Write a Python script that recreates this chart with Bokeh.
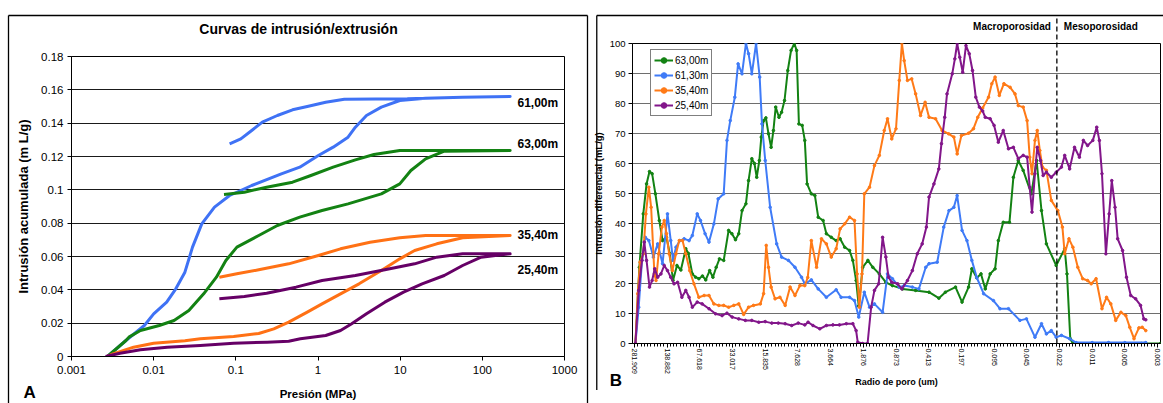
from bokeh.plotting import figure
from bokeh.layouts import row
from bokeh.models import (Range1d, FixedTicker, NumeralTickFormatter, Legend, LegendItem)
from bokeh.core.properties import value
from bokeh.embed import file_html
from bokeh.resources import INLINE

FONT = "Liberation Sans"

# ------------------------------------------------------------------ data (A)
TITLE_A = "Curvas de intrusión/extrusión"
LABELS_A = ["61,00m", "63,00m", "35,40m", "25,40m"]
LABEL_Y_A = [0.1524, 0.1278, 0.0732, 0.0522]
COLORS_A = ["#3f72f5", "#138213", "#ff7115", "#660066"]
X_TICKS_A = [0.001, 0.01, 0.1, 1, 10, 100, 1000]
Y_TICKS_A = [0, 0.02, 0.04, 0.06, 0.08, 0.1, 0.12, 0.14, 0.16, 0.18]

P_INT_61 = [0.00274, 0.0046, 0.0077, 0.010, 0.0144, 0.0186, 0.024, 0.0297, 0.0385, 0.055,
            0.084, 0.156, 0.358, 0.60, 1.01, 1.53, 2.32, 2.85, 3.89, 5.9, 9.9, 20.4, 57.6, 218]
V_INT_61 = [0, 0.0096, 0.0186, 0.0256, 0.0326, 0.0406, 0.0506, 0.0656, 0.0796, 0.0896,
            0.0966, 0.1026, 0.1096, 0.1136, 0.1206, 0.1256, 0.1316, 0.1376, 0.1446, 0.1496,
            0.1536, 0.155, 0.1556, 0.156]
P_EXT_61 = [218, 57.6, 12.2, 2.09, 1.24, 0.74, 0.49, 0.32, 0.21, 0.156, 0.115, 0.084]
V_EXT_61 = [0.156, 0.1556, 0.1546, 0.1544, 0.1526, 0.150, 0.148, 0.1446, 0.1406, 0.1356,
            0.1306, 0.1276]
P_INT_63 = [0.00274, 0.0046, 0.0050, 0.0069, 0.0117, 0.0177, 0.0268, 0.0406, 0.058, 0.0756,
            0.103, 0.19, 0.32, 0.60, 1.12, 2.32, 5.9, 9.9, 13.5, 20.4, 34.4, 218]
V_INT_63 = [0, 0.0096, 0.0116, 0.0156, 0.0186, 0.0216, 0.0276, 0.0376, 0.0476, 0.0576,
            0.0656, 0.0726, 0.0786, 0.0836, 0.0876, 0.0916, 0.0976, 0.1036, 0.1116, 0.1186,
            0.1232, 0.1236]
P_EXT_63 = [218, 9.9, 4.8, 2.85, 1.53, 0.82, 0.49, 0.237, 0.127, 0.0718]
V_EXT_63 = [0.1236, 0.1236, 0.1212, 0.118, 0.1136, 0.1086, 0.1046, 0.1016, 0.0986, 0.0972]
P_INT_35 = [0.0027, 0.0032, 0.0057, 0.010, 0.024, 0.037, 0.094, 0.19, 0.29, 0.44, 0.74,
            1.12, 1.88, 3.16, 5.9, 9.9, 15, 27.9, 57.6, 218]
V_INT_35 = [0, 0.0016, 0.0056, 0.008, 0.0095, 0.0106, 0.012, 0.0138, 0.0166, 0.0206, 0.0266,
            0.0316, 0.0376, 0.0436, 0.0516, 0.0586, 0.0636, 0.0676, 0.0712, 0.0726]
P_EXT_35 = [218, 20.4, 9.9, 4.3, 1.88, 1.01, 0.44, 0.19, 0.103, 0.063]
V_EXT_35 = [0.0726, 0.0726, 0.0712, 0.0686, 0.0646, 0.0606, 0.0556, 0.052, 0.0496, 0.0476]
P_INT_25 = [0.0026, 0.0039, 0.0069, 0.0146, 0.037, 0.094, 0.24, 0.44, 0.61, 1.24, 1.88,
            2.57, 3.89, 6.5, 11, 18.5, 34.4, 57.6, 96.8, 218]
V_INT_25 = [0, 0.002, 0.004, 0.0056, 0.0066, 0.008, 0.0086, 0.0092, 0.0106, 0.0126, 0.0156,
            0.0196, 0.0256, 0.0326, 0.0386, 0.0436, 0.0486, 0.0546, 0.0596, 0.0616]
P_EXT_25 = [218, 57.6, 27.9, 15, 6.5, 2.85, 1.12, 0.54, 0.237, 0.127, 0.063]
V_EXT_25 = [0.0616, 0.0616, 0.0596, 0.0556, 0.052, 0.0486, 0.0456, 0.0416, 0.038, 0.036,
            0.0346]

# ------------------------------------------------------------------ data (B)
RADIUS_LABELS = ["281.909", "138.882", "67.618", "33.017", "15.835", "7.628", "3.664",
                 "1.876", "0.873", "0.413", "0.197", "0.095", "0.045", "0.022", "0.011",
                 "0.005", "0.003"]
LEGEND_B = ["63,00m", "61,30m", "35,40m", "25,40m"]
COLORS_B = ["#138213", "#3f7bf7", "#ff7a17", "#82168a"]
BOUNDARY_POS = 12.92

X_63 = [0.03, 0.15, 0.27, 0.37, 0.46, 0.54, 0.64, 0.76, 0.86, 0.98, 1.08, 1.18, 1.3, 1.42,
        1.57, 1.65, 1.77, 1.87, 1.97, 2.08, 2.18, 2.3, 2.4, 2.5, 2.6, 2.73, 2.88, 2.98, 3.09,
        3.19, 3.29, 3.41, 3.49, 3.59, 3.67, 3.74, 3.82, 3.88, 3.95, 4.02, 4.1, 4.18, 4.25,
        4.32, 4.42, 4.5, 4.59, 4.69, 4.79, 4.89, 4.96, 5.03, 5.13, 5.21, 5.28, 5.41, 5.52,
        5.62, 5.77, 5.87, 6.02, 6.17, 6.29, 6.43, 6.58, 6.68, 6.78, 6.86, 6.98, 7.14, 7.29,
        7.49, 7.69, 7.89, 8.2, 8.6, 9.01, 9.31, 9.51, 9.82, 10.02, 10.22, 10.32, 10.47, 10.6,
        10.73, 10.88, 11.03, 11.13, 11.28, 11.47, 11.59, 11.74, 11.89, 12.14, 12.3, 12.45,
        12.6, 12.9, 13.16, 13.23, 13.33, 13.41, 14.0, 14.5, 15.0, 15.5, 16.09]
Y_63 = [0, 25.4, 43.2, 53.2, 57.3, 56.6, 49.9, 41, 34.3, 35.4, 29.9, 21, 26, 24.5,
        31.6, 30, 23.2, 22.1, 21.6, 22.5, 21.2, 24.3, 22.1, 25.4, 28.2, 27.7, 37.7, 36.6, 34.6,
        36.6, 44.3, 46.6, 54.3, 61.6, 60, 55.4, 61, 68.8, 74.3, 75.2, 69.9, 65.4, 71,
        78.8, 75.4, 77.1, 81, 91, 97.7, 100, 97.7, 73.2, 72.7, 67.7, 53.2, 49.9, 49.3,
        42.1, 41, 36.6, 35.4, 34.3, 34.9, 32.1, 31, 27.7, 21, 12.5, 25.4, 27.7, 25.4,
        23.2, 20.4, 19.3, 18.2, 17.7, 17.1, 15.1, 17.1, 18.8, 13.8, 18.8, 24.9, 21.9, 23.2,
        18.2, 23.2, 24.9, 34.3, 40.4, 40.4, 55.4, 61, 57.7, 49.9, 61, 44.3,
        33.2, 26, 31.6, 23.2, 1.6, 0, 0, 0, 0, 0, 0]

X_61 = [0.03, 0.13, 0.23, 0.33, 0.44, 0.58, 0.71, 0.86, 1.01, 1.11, 1.18, 1.27, 1.39, 1.52,
        1.67, 1.77, 1.92, 2.02, 2.16, 2.28, 2.43, 2.56, 2.73, 2.83, 2.93, 3.07, 3.17, 3.29,
        3.41, 3.49, 3.59, 3.72, 3.83, 3.9, 4.0, 4.15, 4.35, 4.5, 4.71, 4.91, 5.11, 5.21, 5.41,
        5.62, 5.87, 6.17, 6.32, 6.58, 6.73, 6.86, 7.03, 7.19, 7.34, 7.59, 7.74, 7.89, 8.1,
        8.25, 8.5, 8.7, 8.91, 9.01, 9.26, 9.46, 9.62, 9.77, 9.87, 10.02, 10.17, 10.32, 10.47,
        10.68, 10.98, 11.18, 11.44, 11.79, 11.99, 12.25, 12.45, 12.6, 12.75, 12.9, 13.06,
        13.31, 13.51, 14.0, 14.5, 15.0, 15.64]
Y_61 = [0, 12.1, 27.7, 35.4, 34.3, 28.8, 33.2, 26.6, 43.2, 34.3, 27.7, 32.1, 34.3, 34.9,
        34.3, 36, 43.2, 41, 36.6, 33.8, 39.9, 48.2, 49.9, 67.7, 74.3, 82.1, 93.2, 89.9,
        100, 96.6, 89.9, 100, 88.8, 73.2, 61, 45.4, 33.2, 28.8, 27.7, 25.4, 22.1, 19.9, 21.2,
        18.2, 15.4, 17.9, 15.4, 15.4, 14.3, 8.8, 17.1, 12.1, 13.2, 10.4, 23.2, 21.6, 18.8,
        19.3, 18.8, 18.2, 25.4, 26.6, 27.1, 38.8, 44.3, 45.4, 49.3, 37.7, 34.3, 27.7, 22,
        16.6, 14.3, 11.6, 11.6, 7.7, 8.2, 2.1, 6.6, 3.2, 4.3, 2.1, 2.7,
        1.6, 0.3, 0.3, 0.3, 0.3, 0.3]

X_35 = [0.03, 0.1, 0.17, 0.27, 0.35, 0.44, 0.51, 0.61, 0.66, 0.74, 0.84, 0.91, 0.98, 1.06,
        1.16, 1.27, 1.37, 1.47, 1.57, 1.69, 1.82, 1.97, 2.13, 2.28, 2.43, 2.58, 2.73, 2.88,
        3.04, 3.19, 3.34, 3.49, 3.64, 3.85, 3.95, 4.03, 4.1, 4.18, 4.3, 4.45, 4.61, 4.76,
        4.91, 5.06, 5.21, 5.3, 5.41, 5.57, 5.72, 5.87, 6.02, 6.17, 6.29, 6.43, 6.58, 6.73,
        6.81, 6.88, 6.96, 7.03, 7.19, 7.34, 7.49, 7.64, 7.74, 7.87, 8.0, 8.1, 8.18, 8.25,
        8.35, 8.48, 8.6, 8.75, 8.89, 9.01, 9.21, 9.41, 9.61, 9.77, 9.87, 10.0, 10.22, 10.37,
        10.5, 10.65, 10.83, 10.93, 11.03, 11.16, 11.3, 11.49, 11.64, 11.74, 11.89, 12.01,
        12.09, 12.16, 12.25, 12.32, 12.4, 12.48, 12.6, 12.75, 12.95, 13.09, 13.16, 13.29,
        13.41, 13.56, 13.71, 13.86, 13.97, 14.12, 14.3, 14.44, 14.57, 14.72, 14.88, 15.03,
        15.15, 15.28, 15.43, 15.53, 15.64]
Y_35 = [0, 16.6, 27.1, 29.9, 43.2, 52.1, 45.4, 23.2, 21, 29.9, 38.8, 41, 36.6, 29.9,
        24.3, 29.9, 34.3, 34.3, 29.9, 24.3, 19.9, 15.4, 16, 16, 13.2, 12.7, 12.7, 12.1,
        12.7, 13.2, 9.7, 12.1, 12.7, 13.2, 16.6, 32.7, 25.4, 18.8, 14.9, 15.4, 12.7, 18.8,
        16, 19.3, 19.3, 22, 34.3, 25.4, 34.9, 33.2, 28.8, 31.6, 38.2, 39.9, 42.1, 41,
        23.2, 12.1, 23.2, 49.9, 52.1, 59.3, 62.7, 71, 74.9, 68.2, 71.6, 87.7, 100, 94.3,
        87.7, 88.2, 83.2, 76, 80.4, 75.4, 74.9, 71, 69.9, 68.8, 63.2, 69.3, 70.1, 71.6,
        75.4, 78.5, 82.1, 86.6, 88.8, 82.7, 86.6, 85.4, 83.2, 79.3, 78.8, 74.3,
        62.1, 56.6, 67.7, 71, 64.3, 58.8, 57.7, 47.7, 44.3, 38.8, 29.9, 34.9,
        32.1, 25.4, 21.6, 21, 19.9, 21.6, 11.6, 15.4, 13.2, 7.7, 10.4, 9.3,
        5.4, 1.6, 5.2, 5.4, 4.3]

X_25 = [0.03, 0.13, 0.23, 0.3, 0.37, 0.46, 0.54, 0.62, 0.71, 0.81, 0.91, 1.01, 1.11, 1.21,
        1.32, 1.45, 1.57, 1.67, 1.77, 1.92, 2.07, 2.28, 2.48, 2.68, 2.83, 2.99, 3.19, 3.39,
        3.59, 3.8, 4.0, 4.2, 4.4, 4.61, 4.81, 5.01, 5.21, 5.31, 5.46, 5.67, 5.87, 6.07, 6.27,
        6.48, 6.68, 6.78, 6.83, 6.98, 7.13, 7.24, 7.34, 7.47, 7.59, 7.69, 7.77, 7.87, 8.05,
        8.18, 8.35, 8.5, 8.65, 8.8, 8.93, 9.01, 9.16, 9.31, 9.39, 9.49, 9.56, 9.72, 9.8,
        9.87, 9.95, 10.04, 10.14, 10.24, 10.34, 10.44, 10.55, 10.65, 10.73, 10.88, 11.0,
        11.13, 11.28, 11.44, 11.59, 11.74, 11.89, 12.01, 12.09, 12.16, 12.25, 12.32, 12.42,
        12.5, 12.6, 12.75, 12.9, 13.06, 13.16, 13.31, 13.46, 13.61, 13.73, 13.86, 14.02,
        14.14, 14.22, 14.3, 14.42, 14.52, 14.6, 14.7, 14.78, 14.93, 15.05, 15.18, 15.33,
        15.48, 15.58, 15.64]
Y_25 = [0, 17.7, 27.7, 33.8, 27.7, 18.8, 21, 24.9, 22.1, 23.2, 26, 24.3, 22.1, 19.9,
        20.4, 15.4, 17.7, 15.4, 12.1, 13.8, 13.2, 11.6, 9.9, 9.3, 10.1, 8.8, 8.2, 7.7,
        7.7, 7.1, 7.3, 6.8, 6.8, 6.6, 6, 6.8, 6.2, 7.1, 6, 4.9, 6, 6.2, 6.2,
        6.6, 6.6, 4.3, 0.4, 0, 0, 12.1, 17.7, 19.9, 35.4, 28.8, 22.1, 20.4, 19.9,
        18.2, 21, 24.3, 29.9, 33.2, 38.8, 48.8, 53.2, 58.2, 66.6, 75.4, 83.2, 89.9, 94.9,
        100, 95.4, 90.4, 99.3, 96.6, 91, 82.1, 78.8, 77.5, 75.4, 74.9, 72.7,
        67.1, 71, 64.9, 65.4, 61.6, 62.7, 62.1, 52.1, 43.8, 56.6, 65.4, 61,
        56, 57.1, 55.4, 57.1, 58.8, 62.7, 58.2, 65.4, 62.1, 67.7, 66, 67.7,
        72.1, 67.7, 56.6, 29.9, 43.2, 54.3, 45.4, 34.9, 31, 22.1, 16, 14.9,
        12.7, 8.2, 7.9]

# ------------------------------------------------------------------ geometry (page px)
# Both figures share the same border sizes (Bokeh aligns frames in a row); panel A is
# shifted down by A_SHIFT so that the two plot areas sit at different heights.
A_SHIFT = 13
FIG_H = 390
A_W = 589
A_FL, A_FR, A_FT, A_FB = 71, 564, 56, 356          # plot area of panel A (page px)
B_X0 = A_W
B_W = 1163 - A_W
B_FL, B_FR, B_FT, B_FB = 628, 1160, 43, 343       # plot area of panel B (page px)
XB0, XB1 = -0.06, 16.09


def ax_(px):
    return 10 ** (-3 + (px - A_FL) / (A_FR - A_FL) * 6)


def ay_(py):
    return (A_FB - py) / (A_FB - A_FT) * 0.18


def bx_(px):
    return XB0 + (px - B_FL) / (B_FR - B_FL) * (XB1 - XB0)


def by_(py):
    return (B_FB - py) / (B_FB - B_FT) * 100


def style_axis(ax, tick_size, label_size):
    ax.axis_line_color = "black"
    ax.major_tick_line_color = "black"
    ax.major_tick_in = 0
    ax.major_label_text_font = FONT
    ax.major_label_text_font_size = tick_size
    ax.major_label_text_color = "black"
    ax.axis_label_text_font = FONT
    ax.axis_label_text_font_style = "bold"
    ax.axis_label_text_font_size = label_size
    ax.axis_label_text_color = "black"


# ------------------------------------------------------------------ panel A
pa = figure(width=A_W, height=FIG_H, x_axis_type="log",
            x_range=Range1d(0.001, 1000), y_range=Range1d(0, 0.18),
            output_backend="svg", toolbar_location=None,
            min_border_left=A_FL, min_border_right=A_W - A_FR,
            min_border_top=A_FT - A_SHIFT, min_border_bottom=FIG_H + A_SHIFT - A_FB,
            margin=(A_SHIFT, 0, 0, 0))
pa.outline_line_color = "black"

series_a = [(P_INT_61, V_INT_61, P_EXT_61, V_EXT_61),
            (P_INT_63, V_INT_63, P_EXT_63, V_EXT_63),
            (P_INT_35, V_INT_35, P_EXT_35, V_EXT_35),
            (P_INT_25, V_INT_25, P_EXT_25, V_EXT_25)]
for (pi, vi, pe, ve), col in zip(series_a, COLORS_A):
    pa.line(pi + pe, vi + ve, line_color=col, line_width=3, line_join="round")

pa.text(x=[268] * len(LABELS_A), y=LABEL_Y_A, text=LABELS_A, text_font=value(FONT),
        text_font_size=value("12px"), text_font_style="bold", text_baseline="middle",
        text_align="left", text_color="black")

pa.xaxis.ticker = FixedTicker(ticks=X_TICKS_A, minor_ticks=[])
pa.xaxis.formatter = NumeralTickFormatter(format="0.[000]")
pa.yaxis.ticker = FixedTicker(ticks=Y_TICKS_A, minor_ticks=[])
pa.yaxis.formatter = NumeralTickFormatter(format="0.[00]")
style_axis(pa.xaxis[0], "11.5px", "11.5px")
style_axis(pa.yaxis[0], "11.5px", "13px")
for ax in (pa.xaxis[0], pa.yaxis[0]):
    ax.major_tick_out = 4
    ax.minor_tick_line_color = None
pa.xaxis.axis_label = "Presión (MPa)"
pa.xaxis.major_label_standoff = 5
pa.xaxis.axis_label_standoff = 11
pa.yaxis.axis_label = "Intrusión acumulada (m L/g)"
pa.yaxis.major_label_standoff = 4
pa.yaxis.axis_label_standoff = 7
pa.xgrid.visible = False
pa.ygrid.ticker = FixedTicker(ticks=Y_TICKS_A)
pa.ygrid.grid_line_color = "#1a1a1a"

# decorations outside the plot area (overlay level is not clipped to the frame)
pa.text(x=[ax_(298)], y=[ay_(28)], text=[TITLE_A], text_font=value(FONT),
        text_font_size=value("14px"), text_font_style="bold", text_align="center",
        text_baseline="middle", text_color="black", level="overlay")
pa.text(x=[ax_(23)], y=[ay_(392)], text=["A"], text_font=value(FONT),
        text_font_size=value("17px"), text_font_style="bold", text_align="left",
        text_baseline="middle", text_color="black", level="overlay")
pa.multi_line(xs=[[ax_(8), ax_(8)], [ax_(8), ax_(587)], [ax_(587), ax_(587)]],
              ys=[[ay_(410), ay_(15)], [ay_(15), ay_(15)], [ay_(15), ay_(410)]],
              line_color="black", line_width=1.3, level="overlay")

# ------------------------------------------------------------------ panel B
pb = figure(width=B_W, height=FIG_H, x_range=Range1d(XB0, XB1), y_range=Range1d(0, 100),
            output_backend="svg", toolbar_location=None,
            min_border_left=B_FL - B_X0, min_border_right=B_X0 + B_W - B_FR,
            min_border_top=B_FT, min_border_bottom=FIG_H - B_FB)
pb.outline_line_color = "black"

legend_items = []
for xs, ys, col, lab in zip([X_63, X_61, X_35, X_25], [Y_63, Y_61, Y_35, Y_25],
                            COLORS_B, LEGEND_B):
    r1 = pb.line(xs, ys, line_color=col, line_width=2, line_join="round")
    r2 = pb.scatter(xs, ys, marker="circle", size=2.6, fill_color=col, line_color=col)
    legend_items.append(LegendItem(label=lab, renderers=[r1, r2]))

LEG_H = 64
legend = Legend(items=legend_items, location=(18, (B_FB - B_FT) - 9 - LEG_H))
legend.label_text_font = FONT
legend.label_text_font_size = "10px"
legend.label_text_color = "black"
legend.border_line_color = "black"
legend.background_fill_color = "white"
legend.background_fill_alpha = 1
legend.glyph_width = 19
legend.glyph_height = 14
legend.label_height = 14
legend.label_standoff = 2
legend.spacing = 1
legend.padding = 3
legend.margin = 0
pb.add_layout(legend)

pb.xaxis.ticker = FixedTicker(ticks=list(range(len(RADIUS_LABELS))),
                              minor_ticks=[i / 10 for i in range(0, 10 * (len(RADIUS_LABELS) - 1) + 1)])
pb.xaxis.major_label_overrides = {i: lab for i, lab in enumerate(RADIUS_LABELS)}
pb.xaxis.major_label_orientation = "vertical"
pb.yaxis.ticker = FixedTicker(ticks=list(range(0, 101, 10)), minor_ticks=[])
style_axis(pb.xaxis[0], "7px", "9px")
style_axis(pb.yaxis[0], "9.5px", "9.5px")
pb.xaxis.major_tick_out = 4
pb.xaxis.minor_tick_out = 3
pb.xaxis.minor_tick_in = 0
pb.xaxis.minor_tick_line_color = "black"
pb.xaxis.major_label_standoff = 1
pb.xaxis.axis_label = "Radio de poro (um)"
pb.xaxis.axis_label_standoff = 0
pb.yaxis.major_tick_out = 4
pb.yaxis.minor_tick_line_color = None
pb.yaxis.major_label_standoff = 3
pb.yaxis.axis_label = "Intrusión diferencial (mL/g)"
pb.yaxis.axis_label_standoff = 3
pb.xgrid.visible = False
pb.ygrid.ticker = FixedTicker(ticks=list(range(0, 101, 10)))
pb.ygrid.grid_line_color = "#6e6e6e"

pb.line([BOUNDARY_POS, BOUNDARY_POS], [0, by_(15)], line_color="black", line_width=1.3,
        line_dash="5 3", level="overlay")
pb.text(x=[BOUNDARY_POS, BOUNDARY_POS], y=[by_(26), by_(26)],
        text=["Macroporosidad", "Mesoporosidad"], x_offset=[-6, 7],
        text_align=["right", "left"], text_font=value(FONT), text_font_size=value("10px"),
        text_font_style="bold", text_baseline="middle", text_color="black", level="overlay")
pb.text(x=[bx_(605)], y=[by_(380)], text=["B"], text_font=value(FONT),
        text_font_size=value("17px"), text_font_style="bold", text_align="left",
        text_baseline="middle", text_color="black", level="overlay")
pb.multi_line(xs=[[bx_(592), bx_(592)], [bx_(592), bx_(1170)]],
              ys=[[by_(410), by_(15)], [by_(15), by_(15)]],
              line_color="black", line_width=1.3, level="overlay")

layout = row(pa, pb, spacing=0)
open("out.html", "w").write(file_html(layout, INLINE))
